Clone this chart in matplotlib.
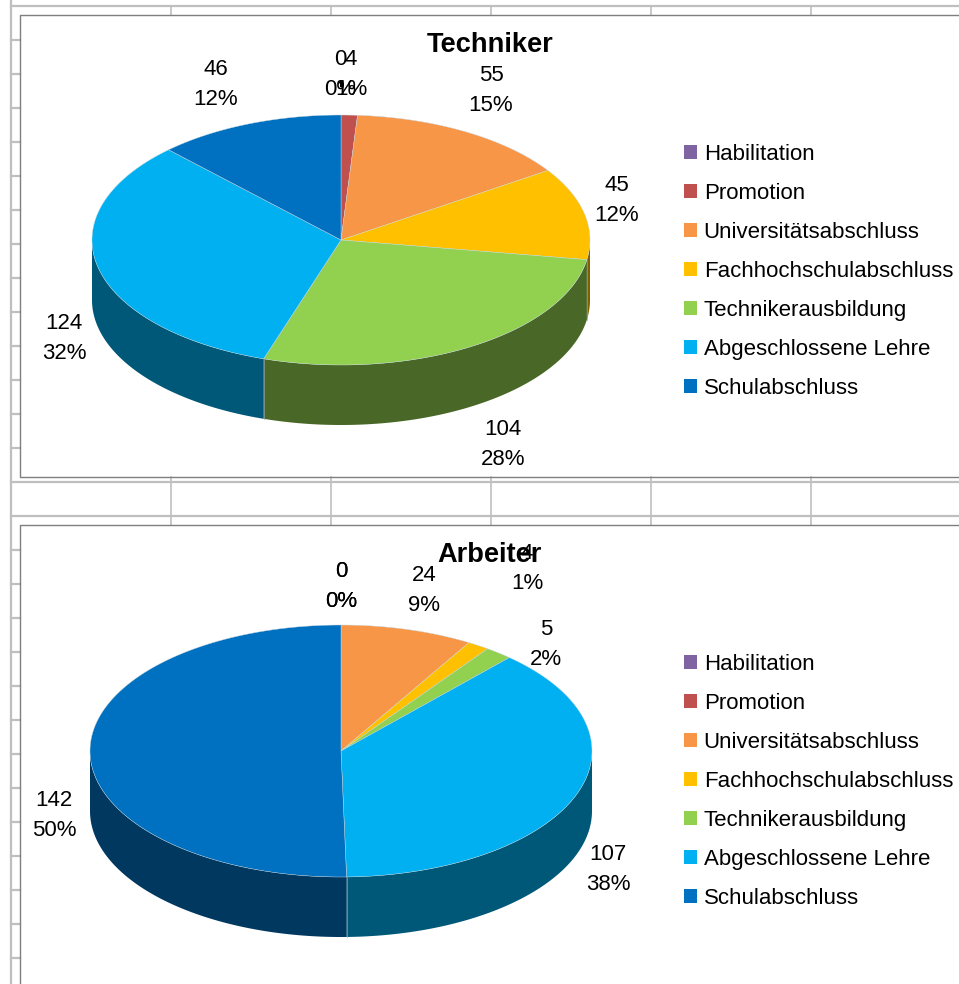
import numpy as np
import matplotlib
matplotlib.use('Agg')
import matplotlib.pyplot as plt
from matplotlib.colors import to_rgb
from matplotlib.patches import Patch

plt.rcParams['font.family'] = ['Liberation Sans', 'DejaVu Sans']

# Data
categories = ['Habilitation', 'Promotion', 'Universitätsabschluss', 'Fachhochschulabschluss',
              'Technikerausbildung', 'Abgeschlossene Lehre', 'Schulabschluss']
techniker_values = [0, 4, 55, 45, 104, 124, 46]
techniker_percent = [0, 1, 15, 12, 28, 32, 12]
arbeiter_values = [0, 0, 24, 4, 5, 107, 142]
arbeiter_percent = [0, 0, 9, 1, 2, 38, 50]

colors = ['#8064A2', '#C0504D', '#F79646', '#FFC000', '#92D050', '#00B0F0', '#0070C0']

# Label centres in pixels
techniker_label_pos = [(340, 73), (351, 73), (491, 89), (617, 199), (503, 443), (64, 337), (216, 83)]
arbeiter_label_pos = [(341, 585), (341, 585), (424, 589), (527, 567), (546, 643), (608, 868), (54, 814)]

GRID = '#BFBFBF'
FRAME = '#7F7F7F'
SIDE_SHADE = 0.5

fig = plt.figure(figsize=(9.59, 9.84), dpi=100)
ax = fig.add_axes([0, 0, 1, 1])
ax.set_xlim(0, 959)
ax.set_ylim(984, 0)
ax.axis('off')


def ellipse_points(cx, cy, rx, ry, t0, t1):
    # t runs clockwise from 12 o'clock, in degrees
    t = np.radians(np.linspace(t0, t1, max(int(abs(t1 - t0)) * 2, 2)))
    return cx + rx * np.sin(t), cy - ry * np.cos(t)


def draw_pie(values, cx, cy, rx, ry, depth):
    angles = np.cumsum([0] + values) / sum(values) * 360
    # side wall first, only the front half can be seen
    for i, c in enumerate(colors):
        t0 = max(angles[i], 90)
        t1 = min(angles[i + 1], 270)
        if t1 <= t0:
            continue
        x, y = ellipse_points(cx, cy, rx, ry, t0, t1)
        xs = np.concatenate([x, x[::-1]])
        ys = np.concatenate([y, y[::-1] + depth])
        side = tuple(v * SIDE_SHADE for v in to_rgb(c))
        ax.fill(xs, ys, color=side, lw=0, zorder=2)
        if t1 < 270:
            ax.plot([x[-1], x[-1]], [y[-1], y[-1] + depth], color='#8FA0A8', lw=0.5, zorder=3)
    # top surface
    for i, c in enumerate(colors):
        if values[i] == 0:
            continue
        x, y = ellipse_points(cx, cy, rx, ry, angles[i], angles[i + 1])
        ax.fill(np.r_[cx, x], np.r_[cy, y], facecolor=c, edgecolor='#C8D8E0', lw=0.3, zorder=4)


def draw_labels(values, percents, positions):
    for v, p, (x, y) in zip(values, percents, positions):
        ax.text(x, y + 1.5, f'{v}\n{p}%', ha='center', va='center', fontsize=16,
                linespacing=1.58, color='black', zorder=6)


def draw_legend(x, y):
    handles = [Patch(facecolor=c, edgecolor='none') for c in colors]
    leg = ax.legend(handles, categories, loc='upper left', bbox_to_anchor=(x, y),
                    bbox_transform=ax.transData, frameon=False, fontsize=16,
                    handlelength=0.585, handleheight=0.585, handletextpad=0.3,
                    labelspacing=0.81, borderpad=0, borderaxespad=0)
    # keep this legend when the next one is made
    ax.add_artist(leg)
    ax.legend_ = None


# sheet grid behind the chart frames
ax.plot([11, 11], [0, 984], color=GRID, lw=1.6, zorder=0)
ax.plot([11, 959], [6, 6], color=GRID, lw=1.6, zorder=0)
for gx in [171, 331, 491, 651, 811]:
    ax.plot([gx, gx], [6, 15], color=GRID, lw=1.2, zorder=0)
    ax.plot([gx, gx], [477, 525], color=GRID, lw=1.2, zorder=0)
for gy in [482, 516]:
    ax.plot([11, 959], [gy, gy], color=GRID, lw=1.6, zorder=0)
for gy in list(range(40, 477, 34)) + list(range(550, 984, 34)):
    ax.plot([11, 20], [gy, gy], color=GRID, lw=1.6, zorder=0)

# chart frames
ax.plot([960, 20, 20, 960], [15, 15, 477, 477], color=FRAME, lw=1, zorder=1)
ax.plot([960, 20, 20], [525, 525, 985], color=FRAME, lw=1, zorder=1)

draw_pie(techniker_values, 341, 240, 249, 125, 60)
draw_labels(techniker_values, techniker_percent, techniker_label_pos)
ax.plot([341, 341], [82, 86], color='black', lw=1.5, zorder=6)
ax.text(490, 45, 'Techniker', ha='center', va='center', fontsize=19.6, fontweight='bold', zorder=7)
draw_legend(684, 144)

draw_pie(arbeiter_values, 341, 751, 251, 126, 60)
draw_labels(arbeiter_values, arbeiter_percent, arbeiter_label_pos)
ax.text(490, 555, 'Arbeiter', ha='center', va='center', fontsize=19.6, fontweight='bold', zorder=7)
draw_legend(684, 654)

fig.savefig('out.png', dpi=100)
plt.close(fig)
